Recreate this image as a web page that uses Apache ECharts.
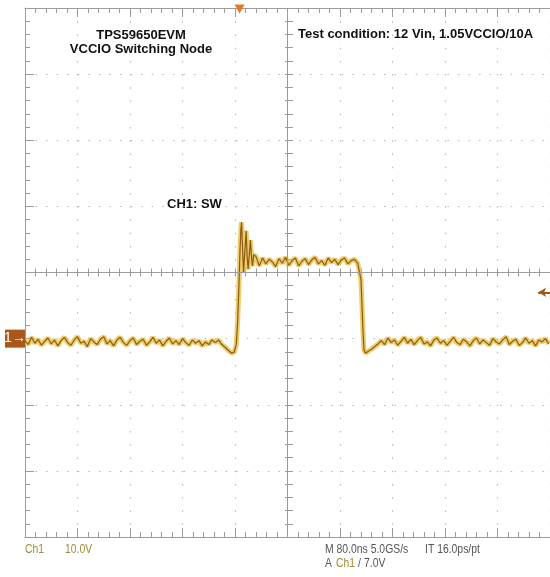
<!DOCTYPE html>
<html>
<head>
<meta charset="utf-8">
<script src="https://cdn.jsdelivr.net/npm/echarts@6/dist/echarts.min.js"></script>
<style>html,body{margin:0;padding:0;background:#fff;}#c{width:550px;height:577px;}</style>
</head>
<body>
<div id="c"></div>
<script>
// Screen axes: time (ns from left edge of screen), Ch1 volts (10 V/div, ground 1 div below centre)
const timeRange = [0, 800];      // 80 ns/div x 10 div
const timeStep = 80;
const voltRange = [-30, 50];     // 10 V/div x 8 div
const voltStep = 10;
const triggerTimeNs = 327;
const triggerLevelV = 7.0;

// Ch1 switching-node trace, [time ns, volts]
const lowBefore = [
  [0,-0.3],[5,-0.9],[10,0.2],[15,-0.7],[20,-0.1],[25,-1.0],[30,-0.4],[35,0.1],[40,-0.8],[45,-0.2],
  [50,-1.1],[55,-0.3],[60,0.2],[65,-0.6],[70,-1.0],[75,-0.2],[80,0.3],[85,-0.7],[90,-0.4],[95,-1.2],
  [100,0.0],[105,-0.5],[110,-0.9],[115,-0.1],[120,0.3],[125,-0.8],[130,-0.3],[135,-1.1],[140,-0.2],[145,0.2],
  [150,-0.6],[155,-1.0],[160,-0.3],[165,0.1],[170,-0.9],[175,-0.4],[180,-0.1],[185,-1.0],[190,-0.5],[195,0.2],
  [200,-0.7],[205,-0.2],[210,-1.1],[215,-0.4],[220,0.1],[225,-0.8],[230,-0.3],[235,-0.9],[240,0.0],[245,-0.6],
  [250,-1.0],[255,-0.2],[260,-0.7],[265,-0.3],[270,-1.1],[275,-0.5],[280,-0.9],[285,-0.2],[290,-0.6],[295,-0.2],
  [300,-0.9],[305,-1.3],[310,-1.8],[315,-2.2]
];
const riseRing = [
  [319,-2.0],[322,-0.8],[324,2.5],[326,8.0],[327.5,13.0],[329,16.6],[330,17.6],[331.5,13.8],[333,10.0],
  [335,13.2],[337,16.3],[338.5,12.4],[340,10.5],[341.5,12.3],[343.5,14.9],[345,12.6],[346.5,11.0],[348.5,12.7]
];
const plateau = [
  [352,12.4],[357,11.0],[362,12.2],[367,11.3],[372,12.0],[377,11.6],[382,10.9],[387,12.1],[392,11.4],[397,12.3],
  [402,11.1],[407,11.8],[412,12.2],[417,11.0],[422,11.7],[427,12.1],[432,11.2],[437,11.9],[442,12.3],[447,11.3],
  [452,11.8],[457,11.1],[462,12.2],[467,11.5],[472,12.0],[477,11.2],[482,11.9],[487,12.2],[492,11.3],[497,11.8],
  [502,12.0],[507,11.4]
];
const fallEdge = [
  [510,11.6],[512,8.9],[513.5,5.1],[515,1.3],[516.5,-1.7],[519,-2.2]
];
const lowAfter = [
  [523,-1.9],[528,-1.6],[533,-1.2],[538,-0.8],[543,-0.3],[548,-0.9],[553,0.1],[558,-0.6],[563,-0.2],[568,-1.0],
  [573,-0.4],[578,0.2],[583,-0.7],[588,-0.1],[593,-0.9],[598,-0.3],[603,0.2],[608,-0.8],[613,-0.5],[618,-1.1],
  [623,-0.2],[628,0.1],[633,-0.7],[638,-0.3],[643,-1.0],[648,-0.4],[653,0.2],[658,-0.6],[663,-0.9],[668,-0.1],
  [673,-0.5],[678,-1.1],[683,-0.3],[688,0.1],[693,-0.8],[698,-0.2],[703,-0.6],[708,-1.0],[713,0.0],[718,-0.5],
  [723,-0.8],[728,-0.2],[733,0.3],[738,-0.9],[743,-0.4],[748,-0.1],[753,-1.0],[758,-0.6],[763,0.1],[768,-0.7],
  [773,-0.3],[778,-1.1],[783,-0.2],[788,-0.5],[793,0.0],[798,-0.8]
];
const ch1Trace = lowBefore.concat(riseRing, plateau, fallEdge, lowAfter);

const titleLines = ['TPS59650EVM', 'VCCIO Switching Node'];
const conditionText = 'Test condition: 12 Vin, 1.05VCCIO/10A';
const channelLabel = 'CH1: SW';
const statusLine1 = ['Ch1', '10.0V', 'M 80.0ns 5.0GS/s', 'IT 16.0ps/pt'];
const statusLine2 = ['A', 'Ch1', '/', '7.0V'];

const timeCentre = (timeRange[0] + timeRange[1]) / 2;
const voltCentre = (voltRange[0] + voltRange[1]) / 2;

const gridC = '#9c9c9c';
const dotC = '#b8b8b8';
const boldFont = 'bold 13px "Liberation Sans", Arial, sans-serif';
const scopeFont = '13px "Liberation Sans", Arial, sans-serif';
const olive = '#a08c3a';
const grey = '#555555';

function xAx(extra) {
  return Object.assign({
    type: 'value', min: timeRange[0], max: timeRange[1], interval: timeStep,
    axisLine: { show: true, onZero: false, lineStyle: { color: gridC, width: 1 } },
    axisTick: { show: true, inside: true, length: 9, lineStyle: { color: gridC } },
    minorTick: { show: true, splitNumber: 5, length: 5, lineStyle: { color: gridC } },
    axisLabel: { show: false },
    splitLine: { show: false }
  }, extra);
}
function yAx(extra) {
  return Object.assign({
    type: 'value', min: voltRange[0], max: voltRange[1], interval: voltStep,
    axisLine: { show: true, onZero: false, lineStyle: { color: gridC, width: 1 } },
    axisTick: { show: true, inside: true, length: 9, lineStyle: { color: gridC } },
    minorTick: { show: true, splitNumber: 5, length: 5, lineStyle: { color: gridC } },
    axisLabel: { show: false },
    splitLine: { show: false }
  }, extra);
}
const centreTick = (inside) => ({
  axisLine: { show: false, onZero: false },
  axisTick: { show: true, inside: inside, length: 4, lineStyle: { color: gridC } },
  minorTick: { show: true, splitNumber: 5, length: 4, lineStyle: { color: gridC } }
});
function scopeText(text, x, y, fill) {
  return { type: 'text', silent: true, x: x, y: y, scaleX: 0.8, originX: 0, originY: 0,
           style: { text: text, x: 0, y: 0, verticalAlign: 'middle', font: scopeFont, fill: fill } };
}

const chart = echarts.init(document.getElementById('c'), null, { renderer: 'canvas' });
const option = {
  animation: false,
  backgroundColor: '#ffffff',
  grid: { left: 25, top: 8, width: 528, height: 529, containLabel: false },
  xAxis: [
    xAx({ position: 'bottom', splitLine: { show: true, lineStyle: { color: dotC, width: 1.2, type: [1.5, 11.72] } } }),
    xAx({ position: 'top' }),
    xAx(Object.assign({ position: 'bottom', offset: -264.5 }, centreTick(true))),
    xAx(Object.assign({ position: 'bottom', offset: -264.5 }, centreTick(false)))
  ],
  yAxis: [
    yAx({ position: 'left', splitLine: { show: true, lineStyle: { color: dotC, width: 1.2, type: [1.5, 9.06] } } }),
    yAx(Object.assign({ position: 'left', offset: -264 }, centreTick(true))),
    yAx(Object.assign({ position: 'left', offset: -264 }, centreTick(false)))
  ],
  series: [
    {
      type: 'line', xAxisIndex: 0, yAxisIndex: 0, data: ch1Trace, showSymbol: false, symbol: 'none',
      lineStyle: { color: '#e6bc3a', width: 5, opacity: 0.75 }, silent: true, z: 3,
      markLine: {
        silent: true, symbol: 'none', animation: false,
        lineStyle: { color: gridC, width: 1, type: 'solid' },
        label: { show: false },
        data: [{ xAxis: timeCentre }, { yAxis: voltCentre }]
      }
    },
    {
      type: 'line', xAxisIndex: 0, yAxisIndex: 0, data: ch1Trace, showSymbol: false, symbol: 'none',
      lineStyle: { color: '#8e5a10', width: 1.2 }, silent: true, z: 4,
      markPoint: {
        silent: true,
        data: [
          { coord: [triggerTimeNs, voltRange[1]], symbol: 'triangle', symbolRotate: 180, symbolSize: [10, 9], symbolOffset: [0, 1],
            itemStyle: { color: '#e8781e' }, label: { show: false } },
          { coord: [timeRange[0], 0], symbol: 'rect', symbolSize: [20, 18], symbolOffset: [-10, 0],
            itemStyle: { color: '#a9581c' },
            label: { show: true, position: 'inside', formatter: '1\u2192', color: '#ffffff', fontSize: 14, fontFamily: 'Liberation Sans, Arial, sans-serif' } }
        ]
      },
      markLine: {
        silent: true, symbol: ['arrow', 'none'], symbolSize: [7, 8],
        lineStyle: { color: '#9a5a20', width: 2, type: 'solid' },
        label: { show: false },
        data: [[{ coord: [782, triggerLevelV] }, { coord: [timeRange[1], triggerLevelV] }]]
      }
    }
  ],
  graphic: [
    { type: 'text', silent: true, style: { text: titleLines[0], x: 141, y: 35, align: 'center', verticalAlign: 'middle', font: boldFont, fill: '#111' } },
    { type: 'text', silent: true, style: { text: titleLines[1], x: 141, y: 49, align: 'center', verticalAlign: 'middle', font: boldFont, fill: '#111' } },
    { type: 'text', silent: true, style: { text: conditionText, x: 298, y: 34, align: 'left', verticalAlign: 'middle', font: boldFont, fill: '#111' } },
    { type: 'text', silent: true, style: { text: channelLabel, x: 167, y: 204, align: 'left', verticalAlign: 'middle', font: boldFont, fill: '#111' } },
    scopeText(statusLine1[0], 25, 549, olive),
    scopeText(statusLine1[1], 65, 549, olive),
    scopeText(statusLine1[2], 325, 549, grey),
    scopeText(statusLine1[3], 425, 549, grey),
    scopeText(statusLine2[0], 325, 563, grey),
    scopeText(statusLine2[1], 336, 563, olive),
    scopeText(statusLine2[2], 358, 563, grey),
    scopeText(statusLine2[3], 364, 563, grey)
  ]
};
chart.setOption(option);
</script>
</body>
</html>
